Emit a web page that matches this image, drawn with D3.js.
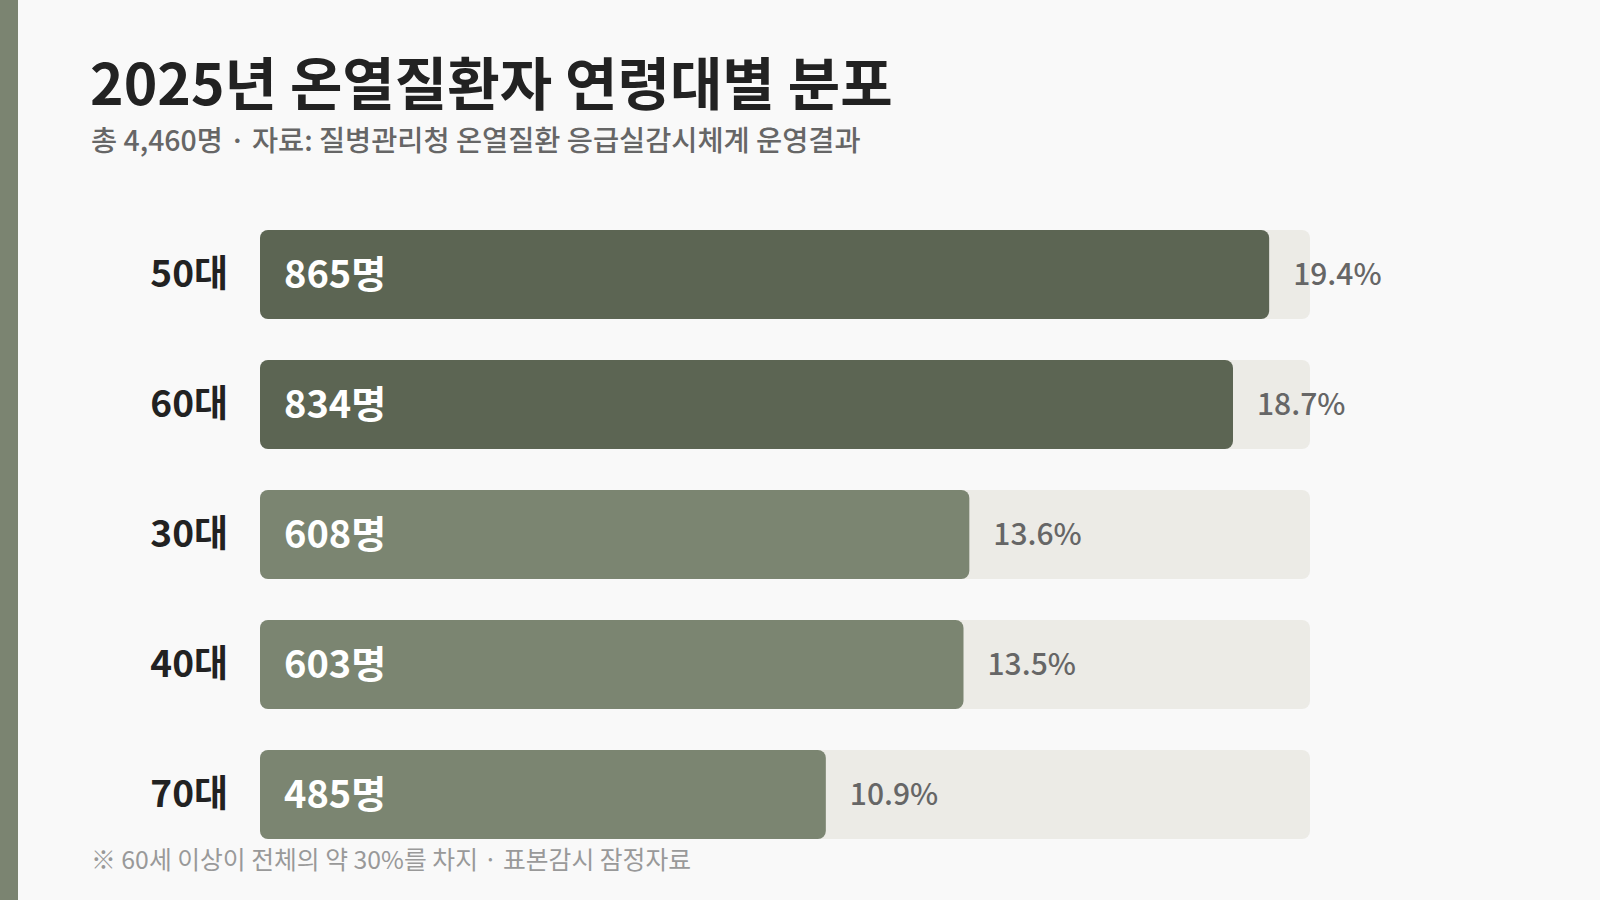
<!DOCTYPE html>
<html><head><meta charset="utf-8">
<script src="https://cdn.jsdelivr.net/npm/d3@7"></script>
<style>
html,body{margin:0;padding:0;background:#f9f9f9;}
svg{display:block;font-family:"Noto Sans CJK KR","Noto Sans",sans-serif;}
</style></head>
<body>
<svg id="chart" width="1600" height="900"></svg>
<script>
const categories = ["50대","60대","30대","40대","70대"];
const counts = [865, 834, 608, 603, 485];
const percents = ["19.4%","18.7%","13.6%","13.5%","10.9%"];
const highlight = [true, true, false, false, false];
const axisMax = 900;
const titleText = "2025년 온열질환자 연령대별 분포";
const subtitleText = "총 4,460명 · 자료: 질병관리청 온열질환 응급실감시체계 운영결과";
const noteText = "※ 60세 이상이 전체의 약 30%를 차지 · 표본감시 잠정자료";

const data = categories.map((c,i)=>({cat:c, v:counts[i], pct:percents[i], hi:highlight[i]}));
const svg = d3.select("#chart");
svg.append("rect").attr("width",1600).attr("height",900).attr("fill","#f9f9f9");
svg.append("rect").attr("x",0).attr("y",0).attr("width",18).attr("height",900).attr("fill","#7b8471");

svg.append("text").attr("x",90).attr("y",105).attr("font-size",57).attr("font-weight",700)
  .attr("fill","#222").text(titleText);
svg.append("text").attr("x",91).attr("y",151).attr("font-size",28.4).attr("font-weight",500)
  .attr("fill","#666").text(subtitleText);

const x = d3.scaleLinear().domain([0, axisMax]).range([260, 1310]);
const y = d3.scaleBand().domain(categories).range([230, 839]).paddingInner(0.3154).paddingOuter(0);

const g = svg.append("g");
const row = g.selectAll("g.row").data(data).join("g").attr("class","row");
row.append("rect").attr("x",x(0)).attr("y",d=>y(d.cat)).attr("width",x(axisMax)-x(0))
  .attr("height",y.bandwidth()).attr("rx",8).attr("fill","#ecebe6");
row.append("rect").attr("x",x(0)).attr("y",d=>y(d.cat)).attr("width",d=>x(d.v)-x(0))
  .attr("height",y.bandwidth()).attr("rx",8).attr("fill",d=>d.hi?"#5c6553":"#7b8571");
row.append("text").attr("x",x(0)-32).attr("y",d=>y(d.cat)+y.bandwidth()/2)
  .attr("dy","0.35em").attr("text-anchor","end").attr("font-size",37).attr("font-weight",700)
  .attr("fill","#222").text(d=>d.cat);
row.append("text").attr("x",x(0)+24).attr("y",d=>y(d.cat)+y.bandwidth()/2)
  .attr("dy","0.35em").attr("font-size",38).attr("font-weight",700)
  .attr("fill","#fff").text(d=>d.v+"명");
row.append("text").attr("x",d=>x(d.v)+24).attr("y",d=>y(d.cat)+y.bandwidth()/2)
  .attr("dy","0.35em").attr("font-size",30).attr("font-weight",500)
  .attr("fill","#666").text(d=>d.pct);

svg.append("text").attr("x",91).attr("y",869).attr("font-size",24.8).attr("font-weight",400)
  .attr("fill","#999").text(noteText);
</script>
</body></html>
